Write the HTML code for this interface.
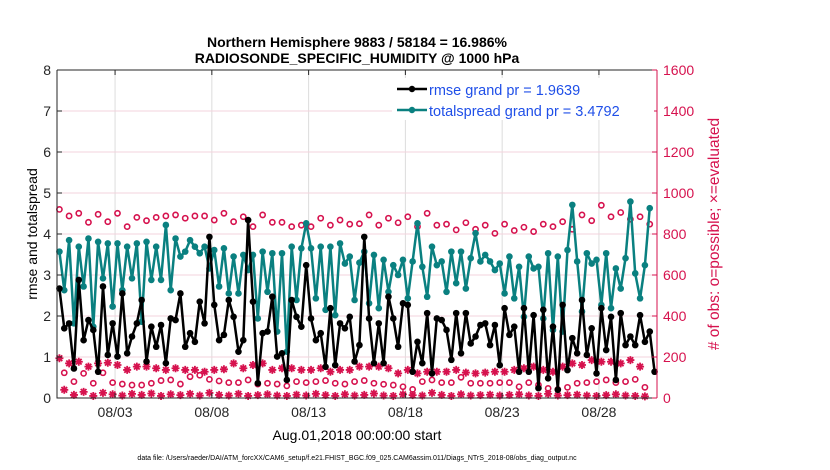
<!DOCTYPE html>
<html><head><meta charset="utf-8"><style>
body{margin:0;background:#fff;}
svg{display:block;font-family:"Liberation Sans",sans-serif;}
</style></head><body>
<svg id="chart" width="830" height="470">
<rect width="830" height="470" fill="#fff"/>
<g id="grid"></g>
<g id="marks"></g>
<g id="axes"></g>
<text x="357" y="47" text-anchor="middle" font-size="14" font-weight="bold">Northern Hemisphere 9883 / 58184 = 16.986%</text>
<text x="357" y="63" text-anchor="middle" font-size="14" font-weight="bold">RADIOSONDE_SPECIFIC_HUMIDITY @ 1000 hPa</text>
<text transform="translate(37,234) rotate(-90)" text-anchor="middle" font-size="14">rmse and totalspread</text>
<text transform="translate(719,234) rotate(-90)" text-anchor="middle" font-size="15.5" fill="#d6124e"># of obs: o=possible; ×=evaluated</text>
<text x="357" y="440" text-anchor="middle" font-size="14">Aug.01,2018 00:00:00 start</text>
<text x="357" y="460" text-anchor="middle" font-size="7">data file: /Users/raeder/DAI/ATM_forcXX/CAM6_setup/f.e21.FHIST_BGC.f09_025.CAM6assim.011/Diags_NTrS_2018-08/obs_diag_output.nc</text>
<g>
<rect x="392" y="78" width="262" height="42" fill="#fff"/>
<line x1="397" y1="89" x2="427" y2="89" stroke="#000" stroke-width="2.5"/>
<circle cx="412" cy="89" r="3.2" fill="#000"/>
<text x="429" y="95" font-size="14.5" fill="#1f4fe8">rmse grand pr = 1.9639</text>
<line x1="397" y1="110" x2="427" y2="110" stroke="#0a8080" stroke-width="2.5"/>
<circle cx="412" cy="110" r="3.2" fill="#0a8080"/>
<text x="429" y="116" font-size="14.5" fill="#1f4fe8">totalspread grand pr = 3.4792</text>
</g>
</svg>
<script>
const xTickLabels = ["08/03","08/08","08/13","08/18","08/23","08/28"];
const xTickDays = [2,7,12,17,22,27];
const leftTicks = [0,1,2,3,4,5,6,7,8];
const rightTicks = [0,200,400,600,800,1000,1200,1400,1600];
const totalspread = [3.57,2.63,3.85,1.82,3.69,2.72,3.89,1.74,3.81,2.92,3.77,2.23,3.77,2.63,3.69,2.92,3.77,1.86,3.81,2.88,3.69,2.88,4.22,2.63,3.89,3.45,3.57,3.85,3.69,3.53,3.69,3.16,
3.61,2.72,3.65,2.55,3.45,2.55,3.49,3.12,3.49,1.94,3.57,2.59,3.53,1.62,3.53,1.13,3.69,2.39,3.65,4.26,3.65,2.43,3.69,2.15,3.69,2.02,3.77,3.28,3.45,2.39,
3.30,3.57,2.31,3.49,2.19,3.37,2.59,3.24,3.00,3.37,2.43,3.33,4.26,3.20,2.47,3.69,3.24,3.33,2.59,3.57,2.80,3.57,2.67,3.41,4.02,3.33,3.49,3.33,3.12,3.28,2.55,
3.45,2.43,3.20,1.98,3.45,3.16,3.20,1.94,3.53,1.66,3.45,1.62,3.61,4.71,3.33,2.11,3.53,3.28,3.37,2.27,3.53,2.19,3.16,2.67,3.41,4.79,3.04,2.43,3.24,4.63];
const rmse = [2.67,1.70,1.82,0.72,2.88,1.41,1.90,1.66,0.64,2.72,1.05,1.82,1.01,2.55,1.09,1.50,1.82,2.39,0.89,1.74,1.25,1.78,0.85,1.94,1.90,2.55,1.25,1.58,1.37,2.35,1.82,3.93,
2.27,1.41,1.54,2.39,1.98,1.13,1.41,4.34,2.35,0.36,1.58,1.62,2.47,1.01,1.09,0.44,2.39,1.98,1.74,3.24,1.94,1.41,1.58,0.76,2.19,0.80,1.82,1.70,1.98,0.89,
1.29,3.93,1.94,0.85,1.82,0.85,2.47,1.94,1.25,2.31,2.27,0.64,1.37,0.85,2.07,0.60,1.94,1.90,1.66,0.93,2.07,1.09,2.07,1.33,1.50,1.78,1.82,1.29,1.78,0.80,2.19,
1.54,1.74,0.64,2.19,0.64,2.02,0.24,2.15,0.48,1.74,0.20,2.27,0.68,1.46,1.09,2.39,1.05,1.70,0.60,2.19,1.17,1.98,0.44,2.07,1.29,1.50,1.29,2.02,1.37,1.62,0.64];
const possibleHigh = [920,888,901,857,896,860,901,836,881,865,881,888,893,877,888,
888,868,901,860,884,836,893,857,857,836,843,836,877,843,868,848,
850,893,843,877,855,884,836,901,843,848,820,855,823,843,803,848,
817,833,812,848,836,860,823,893,865,940,884,905,872,884,848];
const possibleLow = [123,80,120,72,123,75,68,63,63,72,85,88,68,104,111,
91,83,75,75,88,68,72,68,59,80,75,80,85,72,68,80,
85,72,67,63,55,42,80,88,75,75,101,72,72,72,75,
75,55,75,63,47,42,52,72,75,80,88,75,80,91,52];
const evaluatedHigh = [194,169,177,153,169,172,161,137,153,153,145,137,145,137,137,128,
137,140,169,145,161,169,137,145,145,137,137,145,128,137,137,
153,153,153,145,120,137,120,128,128,128,137,124,120,124,128,
128,137,145,153,137,128,153,169,161,185,177,177,169,185,153];
const evaluatedLow = [40,15,30,10,25,18,12,20,15,22,10,18,14,20,12,
25,15,12,20,10,14,18,12,10,16,12,20,14,10,18,12,
15,22,12,10,18,14,12,25,15,10,18,12,14,16,12,
15,18,12,10,20,12,14,16,12,10,14,18,12,10,8];
</script>
<script>
const NS="http://www.w3.org/2000/svg";
const L=57,R=657,T=70,B=398;
const dayMin=-1,dayMax=30;
function xScale(d){return L+(d-dayMin)/(dayMax-dayMin)*(R-L);}
function yLeft(v){return B-v/8*(B-T);}
function yRight(v){return B-v/1600*(B-T);}
function mk(tag,attrs,parent){const e=document.createElementNS(NS,tag);for(const k in attrs)e.setAttribute(k,attrs[k]);parent.appendChild(e);return e;}
const grid=document.getElementById('grid'),marks=document.getElementById('marks'),axes=document.getElementById('axes');
xTickDays.forEach((d,i)=>{const g=mk('line',{x1:xScale(d),x2:xScale(d),y1:T,y2:B,stroke:'#dcdcdc','stroke-width':1},grid);

});
rightTicks.forEach(v=>{const g=mk('line',{x1:L,x2:R,y1:yRight(v),y2:yRight(v),stroke:'#f3d3dc','stroke-width':1},grid);

});
function tIdx(i){return -0.875+0.25*i;}
function drawLine(arr,color,name){
  const pts=arr.map((v,i)=>xScale(tIdx(i)).toFixed(1)+','+yLeft(v).toFixed(1)).join(' ');
  const pl=mk('polyline',{points:pts,fill:'none',stroke:color,'stroke-width':2.5,'stroke-linejoin':'round'},marks);
  
  
  arr.forEach((v,i)=>{const c=mk('circle',{cx:xScale(tIdx(i)),cy:yLeft(v),r:3.3,fill:color},marks);
    
    });
}
const crim='#d6124e';
function drawCircles(arr,off,name){arr.forEach((v,k)=>{const c=mk('circle',{cx:xScale(-0.875+off+0.5*k),cy:yRight(v),r:2.6,fill:'none',stroke:crim,'stroke-width':1.6},marks);
  
  });}
function drawStars(arr,off,name){arr.forEach((v,k)=>{const x=xScale(-0.875+off+0.5*k),y=yRight(v),r=4;
  let d='';for(let a=0;a<4;a++){const an=a*Math.PI/4;d+=`M${x-r*Math.cos(an)},${y-r*Math.sin(an)}L${x+r*Math.cos(an)},${y+r*Math.sin(an)}`;}
  const p=mk('path',{d:d,stroke:crim,'stroke-width':1.8,fill:'none'},marks);
  
  });}
drawCircles(possibleHigh,0,'possible-obs-marker');
drawCircles(possibleLow,0.25,'possible-obs-marker');
drawStars(evaluatedHigh,0,'evaluated-obs-marker');
drawStars(evaluatedLow,0.25,'evaluated-obs-marker');
drawLine(totalspread,'#0a8080','totalspread');
drawLine(rmse,'#000','rmse');
const fr=mk('path',{d:`M${L},${T}H${R}M${L},${T}V${B}H${R}`,stroke:'#262626','stroke-width':1,fill:'none'},axes);


const ra=mk('line',{x1:R,x2:R,y1:T,y2:B,stroke:crim,'stroke-width':1},axes);


leftTicks.forEach(v=>{const y=yLeft(v);mk('line',{x1:L,x2:L+5,y1:y,y2:y,stroke:'#262626'},axes);
  const t=mk('text',{x:L-6,y:y+5,'text-anchor':'end','font-size':14,fill:'#262626'},axes);t.textContent=v;
  
  });
rightTicks.forEach(v=>{const y=yRight(v);mk('line',{x1:R-5,x2:R,y1:y,y2:y,stroke:crim},axes);
  const t=mk('text',{x:R+6,y:y+5,'font-size':14,fill:crim},axes);t.textContent=v;
  
  });
xTickDays.forEach((d,i)=>{const x=xScale(d);mk('line',{x1:x,x2:x,y1:B,y2:B-5,stroke:'#262626'},axes);mk('line',{x1:x,x2:x,y1:T,y2:T+5,stroke:'#262626'},axes);
  const t=mk('text',{x:x,y:B+19,'text-anchor':'middle','font-size':14,fill:'#262626'},axes);t.textContent=xTickLabels[i];
  
  });
</script>
</body></html>
